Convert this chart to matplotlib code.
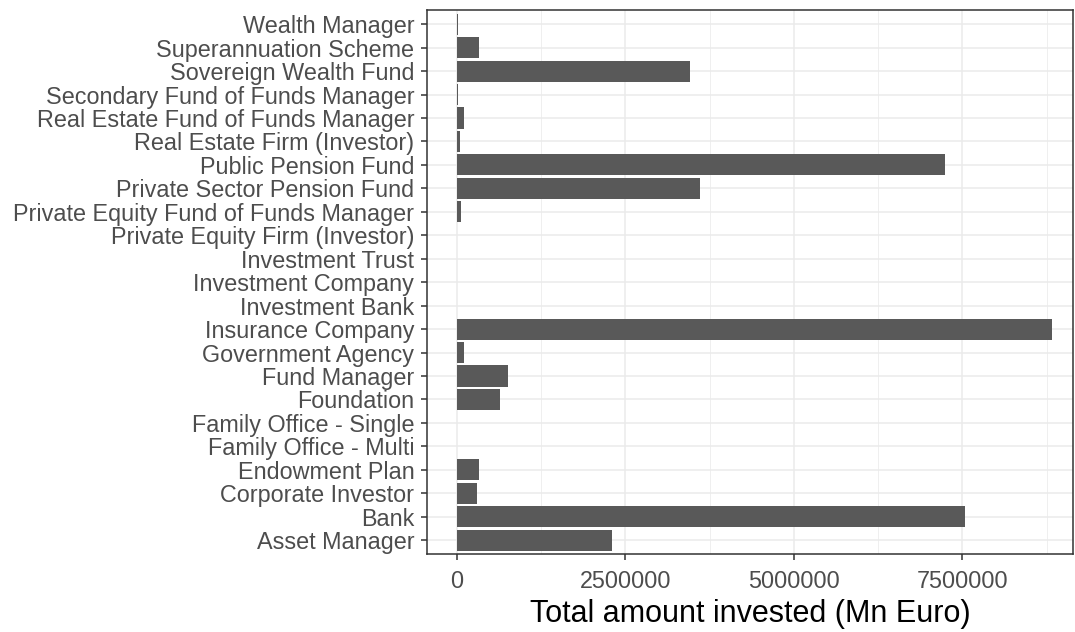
import numpy as np
import matplotlib.pyplot as plt
from matplotlib.ticker import FixedLocator

# investor types, listed bottom to top as drawn
categories = [
    "Asset Manager", "Bank", "Corporate Investor", "Endowment Plan",
    "Family Office - Multi", "Family Office - Single", "Foundation",
    "Fund Manager", "Government Agency", "Insurance Company",
    "Investment Bank", "Investment Company", "Investment Trust",
    "Private Equity Firm (Investor)", "Private Equity Fund of Funds Manager",
    "Private Sector Pension Fund", "Public Pension Fund",
    "Real Estate Firm (Investor)", "Real Estate Fund of Funds Manager",
    "Secondary Fund of Funds Manager", "Sovereign Wealth Fund",
    "Superannuation Scheme", "Wealth Manager",
]
# total amount invested, Mn Euro
amounts = [
    2310000, 7540000, 306000, 335000,
    0, 0, 647000,
    766000, 113000, 8830000,
    10000, 0, 0,
    0, 68000,
    3610000, 7245000,
    45000, 113000,
    15000, 3460000,
    335000, 15000,
]
x_ticks = [0, 2500000, 5000000, 7500000]
x_minor = [1250000, 3750000, 6250000, 8750000]

plt.rcParams['font.family'] = ['Liberation Sans', 'DejaVu Sans']

fig = plt.figure(figsize=(10.75, 6.32), dpi=100)
ax = fig.add_axes([0.397, 0.123, 0.601, 0.861])

y = np.arange(len(categories))
ax.barh(y, amounts, height=0.9, color='#595959', zorder=3)

ax.set_xlim(-445000, 9140000)
ax.set_ylim(-0.6, len(categories) - 0.4)

ax.set_yticks(y)
ax.set_yticklabels(categories)
ax.xaxis.set_major_locator(FixedLocator(x_ticks))
ax.xaxis.set_minor_locator(FixedLocator(x_minor))
ax.set_xticklabels([str(v) for v in x_ticks])

ax.grid(which='major', color='#EBEBEB', linewidth=1.1, zorder=0)
ax.grid(which='minor', axis='x', color='#EBEBEB', linewidth=0.55, zorder=0)
ax.set_axisbelow(True)

for s in ax.spines.values():
    s.set_color('#333333')
    s.set_linewidth(1.1)

ax.tick_params(axis='both', which='major', colors='#333333', length=4, width=1.1,
               labelsize=16.8, labelcolor='#4D4D4D')
ax.tick_params(axis='y', pad=5)
ax.tick_params(axis='x', pad=7)
ax.tick_params(axis='x', which='minor', length=0)

ax.set_xlabel('Total amount invested (Mn Euro)', fontsize=22, color='black', labelpad=5)

fig.savefig('out.png', dpi=100)
